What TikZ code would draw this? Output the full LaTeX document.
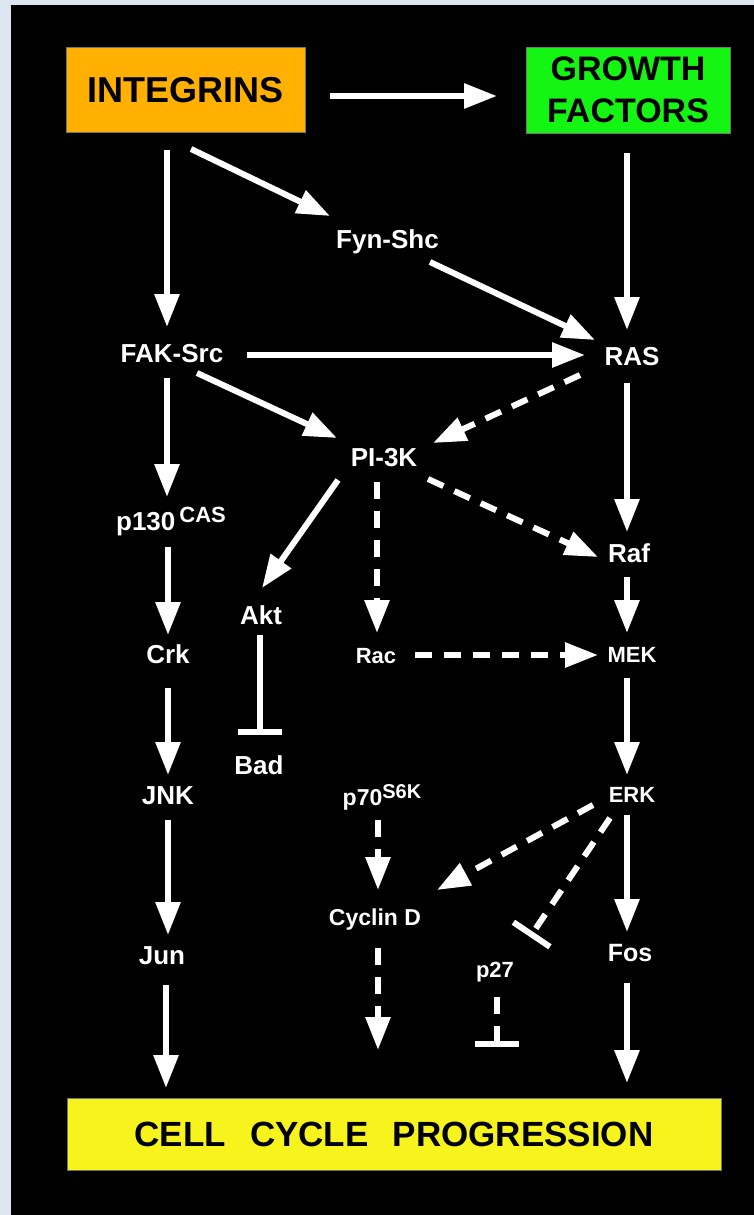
\documentclass[tikz,border=0pt]{standalone}
\usepackage{fontspec}
\setmainfont{Liberation Sans}
\usetikzlibrary{arrows.meta}
\definecolor{bgblue}{RGB}{221,230,240}
\definecolor{intorange}{RGB}{255,176,0}
\definecolor{gfgreen}{RGB}{20,245,20}
\definecolor{ccyellow}{RGB}{246,244,28}
\begin{document}
\begin{tikzpicture}[x=1pt,y=-1pt,
  lbl/.style={text=white, font=\bfseries\fontsize{26}{26}\selectfont, inner sep=0pt, text height=18.6pt, text depth=0pt},
  lbls/.style={text=white, font=\bfseries\fontsize{22}{22}\selectfont, inner sep=0pt, text height=15.8pt, text depth=0pt},
  arr/.style={draw=white, line width=6pt, -{Triangle[length=33pt,width=24pt]}},
  darr/.style={arr, dash pattern=on 17pt off 12pt},
  inh/.style={draw=white, line width=6pt, -{Bar[width=44pt]}},
  dinh/.style={inh, dash pattern=on 17pt off 12pt},
  bigbox/.style={draw=black!55, line width=0.8pt, inner sep=0pt, text=black}
]
\useasboundingbox (0,0) rectangle (754,1215);
\fill[bgblue] (0,0) rectangle (754,1215);
\fill[black] (11,5) rectangle (754,1215);

% boxes
\node[bigbox, fill=intorange, minimum width=239pt, minimum height=85pt,
      font=\bfseries\fontsize{36}{36}\selectfont, text height=25.5pt, text depth=0pt]
      (INT) at (185.5,89.5) {INTEGRINS};
\node[bigbox, fill=gfgreen, minimum width=204pt, minimum height=86pt, align=center,
      font=\bfseries\fontsize{34}{42}\selectfont]
      (GF) at (628,90) {GROWTH\\FACTORS};
\node[bigbox, fill=ccyellow, minimum width=654pt, minimum height=72pt,
      font=\bfseries\fontsize{35}{35}\selectfont, text height=24.5pt, text depth=0pt]
      (CCP) at (394,1134) {CELL\hspace{24pt}CYCLE\hspace{24pt}PROGRESSION};

% labels
\node[lbl] (Fyn) at (387.5,239) {Fyn-Shc};
\node[lbl] (FAK) at (172,353) {FAK-Src};
\node[lbl] (RAS) at (632,356) {RAS};
\node[lbl] (PI3K) at (384,457) {PI-3K};
\node[lbl] (p130) at (171,521) {p130\hspace{4pt}\raisebox{8pt}{\fontsize{22}{22}\selectfont CAS}};
\node[lbl] (Raf) at (629,553) {Raf};
\node[lbl] (Akt) at (261,615) {Akt};
\node[lbl] (Crk) at (168,654) {Crk};
\node[lbls] (Rac) at (376,655.5) {Rac};
\node[lbls] (MEK) at (632,655) {MEK};
\node[lbl] (Bad) at (259,765) {Bad};
\node[lbl] (JNK) at (168,795) {JNK};
\node[lbls, font=\bfseries\fontsize{23}{23}\selectfont, text height=16.5pt] (p70) at (382,797)
      {p70\raisebox{7pt}{\fontsize{20}{20}\selectfont S6K}};
\node[lbls] (ERK) at (632,795) {ERK};
\node[lbls, font=\bfseries\fontsize{23}{23}\selectfont, text height=16.5pt] (CycD) at (375,917) {Cyclin D};
\node[lbl] (Jun) at (162,955) {Jun};
\node[lbl, font=\bfseries\fontsize{25}{25}\selectfont, text height=17.9pt] (Fos) at (630,953) {Fos};
\node[lbls] (p27) at (495,970) {p27};

% connectors
\draw[arr] ([shift={(144.5,6.5)}]INT.center) -- ([shift={(-131,6)}]GF.center);
\draw[arr] ([shift={(-18.5,60.5)}]INT.center) -- ([shift={(-5,-26)}]FAK.center);
\draw[arr] ([shift={(5.5,59.5)}]INT.center) -- ([shift={(-57.5,-23)}]Fyn.center);
\draw[arr] ([shift={(-1,63)}]GF.center) -- ([shift={(-5,-26)}]RAS.center);
\draw[arr] ([shift={(42.5,23)}]Fyn.center) -- ([shift={(-37,-16)}]RAS.center);
\draw[arr] ([shift={(75,2)}]FAK.center) -- ([shift={(-47,-1)}]RAS.center);
\draw[arr] ([shift={(25,20)}]FAK.center) -- ([shift={(-47,-19)}]PI3K.center);
\draw[darr] ([shift={(-52,19)}]RAS.center) -- ([shift={(49,-14)}]PI3K.center);
\draw[arr] ([shift={(-5,27)}]RAS.center) -- ([shift={(-2,-21)}]Raf.center);
\draw[arr] ([shift={(-5,25)}]FAK.center) -- ([shift={(-4,-24)}]p130.center);
\draw[arr] ([shift={(-46,23)}]PI3K.center) -- ([shift={(1,-27)}]Akt.center);
\draw[darr] ([shift={(-7,25)}]PI3K.center) -- ([shift={(1,-22.5)}]Rac.center);
\draw[darr] ([shift={(44,22)}]PI3K.center) -- ([shift={(-31,4)}]Raf.center);
\draw[arr] ([shift={(-3,26)}]p130.center) -- ([shift={(0,-19)}]Crk.center);
\draw[arr] ([shift={(-2,24)}]Raf.center) -- ([shift={(-5,-22)}]MEK.center);
\draw[inh] ([shift={(-1,20)}]Akt.center) -- ([shift={(1,-30)}]Bad.center);
\draw[darr] ([shift={(39,-0.5)}]Rac.center) -- ([shift={(-34,0)}]MEK.center);
\draw[arr] ([shift={(0,34)}]Crk.center) -- ([shift={(0,-20)}]JNK.center);
\draw[arr] ([shift={(-5,23)}]MEK.center) -- ([shift={(-5,-20)}]ERK.center);
\draw[arr] ([shift={(0,25)}]JNK.center) -- ([shift={(6,-20)}]Jun.center);
\draw[darr] ([shift={(-4,23)}]p70.center) -- ([shift={(3,-27)}]CycD.center);
\draw[darr] ([shift={(-39,10)}]ERK.center) -- ([shift={(62,-27)}]CycD.center);
\draw[dinh] ([shift={(-22,23)}]ERK.center) -- ([shift={(35,-33)}]p27.center);
\draw[arr] ([shift={(-5,20)}]ERK.center) -- ([shift={(-3,-21)}]Fos.center);
\draw[darr] ([shift={(3,31)}]CycD.center) -- ([shift={(-16,-84)}]CCP.center);
\draw[dinh] ([shift={(2,27)}]p27.center) -- ([shift={(103,-87)}]CCP.center);
\draw[arr] ([shift={(4,30)}]Jun.center) -- ([shift={(-228,-46)}]CCP.center);
\draw[arr] ([shift={(-3,30)}]Fos.center) -- ([shift={(233,-51)}]CCP.center);
\end{tikzpicture}
\end{document}
